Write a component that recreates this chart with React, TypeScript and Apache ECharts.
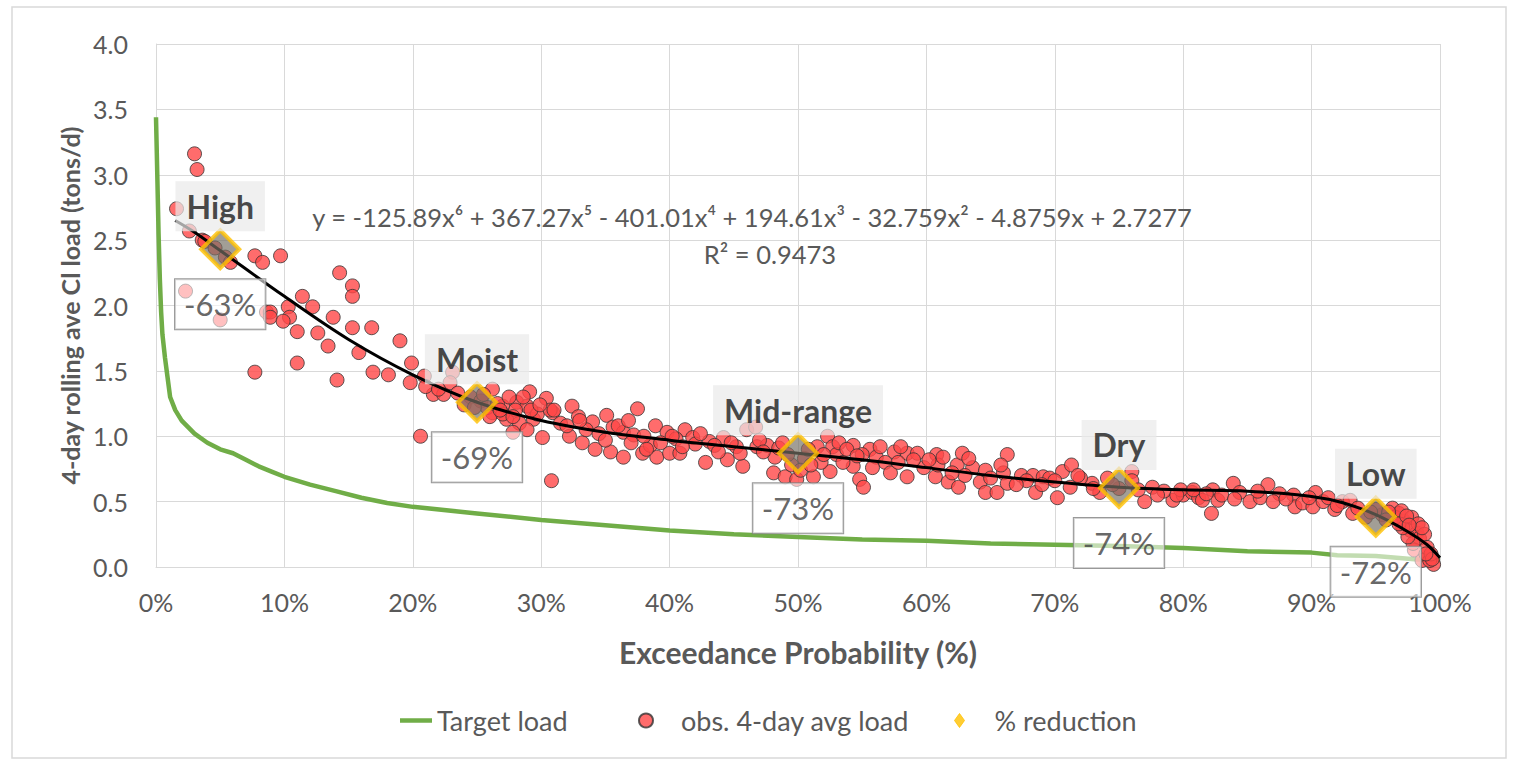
import React, { useEffect, useRef } from "react";
import * as echarts from "echarts";

// Target load curve (exceedance %, tons/d)
const targetLoad: [number, number][] = [
  [0, 3.44], [0.1, 3.0], [0.2, 2.55], [0.3, 2.2], [0.4, 1.95], [0.5, 1.78], [0.7, 1.6], [0.9, 1.45],
  [1.1, 1.3], [1.5, 1.2], [2, 1.12], [3, 1.02], [4, 0.95], [5, 0.9], [6, 0.87], [7, 0.82], [8, 0.77],
  [9, 0.73], [10, 0.69], [12, 0.63], [14, 0.58], [16, 0.53], [18, 0.49], [20, 0.46], [25, 0.41],
  [30, 0.36], [35, 0.32], [40, 0.28], [45, 0.25], [50, 0.23], [55, 0.21], [60, 0.2], [65, 0.18],
  [70, 0.17], [75, 0.16], [80, 0.145], [85, 0.12], [90, 0.11], [92, 0.09], [95, 0.085], [98, 0.06], [100, 0.05],
];

// Observed 4-day average loads (exceedance %, tons/d)
const observedLoad: [number, number][] = [
  [1.6, 2.74], [3.0, 3.16], [3.2, 3.04], [2.6, 2.57], [3.6, 2.5], [3.8, 2.49], [4.6, 2.44], [5.4, 2.37],
  [5.8, 2.33], [2.3, 2.11], [5.0, 1.89], [8.6, 1.95], [7.7, 2.38], [8.3, 2.33], [9.7, 2.38], [14.3, 2.25],
  [15.3, 2.15], [15.3, 2.07], [8.9, 1.95], [8.9, 1.91], [10.3, 1.99], [11.4, 2.07], [12.2, 1.99], [10.4, 1.91],
  [9.9, 1.88], [11.0, 1.8], [12.6, 1.79], [13.8, 1.91], [15.3, 1.83], [16.8, 1.83], [19.0, 1.73], [13.4, 1.69],
  [15.8, 1.64], [7.7, 1.49], [11.0, 1.56], [14.1, 1.43], [16.9, 1.49], [18.1, 1.47], [19.9, 1.56], [19.8, 1.41],
  [20.9, 1.46], [21.6, 1.32], [22.4, 1.32], [23.1, 1.49], [22.9, 1.41], [20.6, 1.0], [24.5, 1.3], [26.2, 1.36],
  [27.0, 1.23], [28.1, 1.26], [29.1, 1.34], [30.4, 1.29], [30.9, 1.18], [28.9, 1.23], [27.3, 1.13], [28.3, 1.1],
  [29.4, 1.13], [30.1, 0.99], [27.8, 1.03], [28.9, 1.05], [26.2, 1.18], [30.8, 0.66], [25.3, 1.27], [25.8, 1.22],
  [26.6, 1.25], [27.5, 1.3], [26.0, 1.15], [27.0, 1.17], [28.0, 1.2], [29.7, 1.17], [24.0, 1.24], [30.7, 1.2],
  [32.4, 1.23], [32.9, 1.15], [32.2, 1.0], [33.2, 0.95], [34.0, 1.11], [34.2, 0.9], [35.1, 1.16], [35.6, 1.07],
  [35.4, 0.88], [36.4, 1.03], [36.4, 0.84], [37.5, 1.21], [37.2, 1.01], [37.9, 0.87], [38.9, 1.08], [39.0, 0.84],
  [39.8, 1.03], [40.0, 0.87], [40.8, 0.87], [41.2, 1.05], [41.8, 0.99], [42.8, 0.8], [43.1, 0.96], [44.2, 0.99],
  [44.5, 0.82], [45.7, 0.77], [45.2, 0.92], [46.0, 1.05], [46.7, 1.07], [46.8, 0.92], [47.6, 0.93], [48.2, 0.84],
  [48.1, 0.72], [49.0, 0.69], [49.9, 0.67], [51.2, 0.69], [51.5, 0.92], [52.3, 1.0], [52.7, 0.92], [52.5, 0.73],
  [54.3, 0.93], [54.3, 0.77], [54.8, 0.67], [55.1, 0.61], [55.6, 0.9], [56.1, 0.84], [31.0, 1.2], [33.5, 1.05],
  [36.0, 1.08], [37.0, 0.95], [38.5, 0.93], [40.5, 0.98], [42.0, 0.94], [43.5, 0.93], [47.0, 0.97], [48.5, 0.91],
  [49.5, 0.78], [50.5, 0.83], [51.8, 0.8], [53.0, 0.86], [53.5, 0.8], [55.0, 0.86], [56.8, 0.8], [57.5, 0.88],
  [57.2, 0.72], [58.5, 0.87], [59.3, 0.87], [58.5, 0.69], [60.8, 0.86], [60.7, 0.69], [60.9, 0.78], [61.7, 0.65],
  [62.5, 0.61], [62.4, 0.78], [62.8, 0.87], [63.6, 0.76], [64.2, 0.65], [64.6, 0.74], [64.6, 0.57], [65.5, 0.57],
  [66.3, 0.86], [66.0, 0.72], [66.3, 0.64], [67.4, 0.7], [68.5, 0.57], [68.3, 0.7], [69.1, 0.69], [69.6, 0.68],
  [70.2, 0.53], [70.6, 0.73], [71.3, 0.78], [71.2, 0.61], [72.9, 0.64], [73.5, 0.57], [74.1, 0.68], [76.0, 0.73],
  [76.0, 0.66], [77.0, 0.5], [77.6, 0.61], [79.2, 0.51], [80.0, 0.55], [80.7, 0.57], [81.2, 0.53], [57.8, 0.8],
  [59.8, 0.76], [63.0, 0.7], [67.8, 0.66], [72.0, 0.68], [75.0, 0.6], [74.5, 0.63], [78.5, 0.58], [79.8, 0.59],
  [80.8, 0.59], [81.5, 0.51], [82.2, 0.41], [82.3, 0.59], [82.7, 0.51], [83.9, 0.64], [84.4, 0.57], [85.2, 0.5],
  [86.6, 0.63], [88.6, 0.55], [88.7, 0.46], [89.3, 0.49], [90.3, 0.57], [90.1, 0.46], [90.9, 0.5], [91.8, 0.44],
  [92.4, 0.5], [93.0, 0.51], [93.2, 0.41], [94.2, 0.38], [95.5, 0.4], [96.3, 0.45], [96.8, 0.41], [97.2, 0.35],
  [97.7, 0.28], [98.2, 0.26], [98.4, 0.22], [98.0, 0.13], [98.6, 0.05], [99.5, 0.02], [99.2, 0.05], [97.9, 0.18],
  [97.5, 0.23], [97.1, 0.3], [96.5, 0.38], [97.0, 0.43], [97.8, 0.38], [98.3, 0.33], [98.8, 0.25], [99.0, 0.15],
  [99.3, 0.1], [87.5, 0.56], [86.0, 0.53], [83.0, 0.55], [95.0, 0.44], [96.0, 0.42],
  [21.0, 1.38], [22.0, 1.36], [23.5, 1.33], [24.8, 1.22], [25.5, 1.32], [26.8, 1.2], [27.8, 1.15], [28.6, 1.3],
  [29.2, 1.2], [29.9, 1.24], [31.5, 1.1], [32.0, 1.08], [33.0, 1.12], [34.5, 1.02], [35.0, 0.97], [36.8, 1.12],
  [38.0, 1.0], [38.2, 0.9], [39.3, 0.95], [40.2, 1.0], [41.0, 0.92], [42.4, 1.02], [43.8, 0.88], [44.8, 0.95],
  [45.5, 0.87], [47.3, 0.88], [48.8, 0.95], [49.2, 0.86], [50.2, 0.74], [50.8, 0.9], [51.0, 0.78], [52.0, 0.86],
  [53.2, 0.95], [53.8, 0.9], [54.6, 0.85], [55.8, 0.76], [56.4, 0.92], [58.0, 0.92], [59.0, 0.82], [60.2, 0.82],
  [61.3, 0.84], [62.0, 0.72], [63.3, 0.83], [65.0, 0.68], [65.8, 0.78], [67.0, 0.63], [69.0, 0.63], [70.0, 0.66],
  [71.8, 0.7], [73.0, 0.6], [76.5, 0.59], [78.0, 0.55], [79.5, 0.55], [81.8, 0.56], [84.0, 0.52], [85.8, 0.58],
  [87.0, 0.5], [88.0, 0.52], [89.8, 0.53], [91.3, 0.53], [92.0, 0.47], [93.6, 0.45], [94.6, 0.42], [95.8, 0.36],
  [96.8, 0.33], [97.4, 0.39], [98.6, 0.3], [99.4, 0.06], [98.9, 0.1], [97.6, 0.32],
];

// Polynomial trend line
const trendLine: [number, number][] = [
  [1.5, 2.65], [3, 2.56], [5, 2.42], [10, 2.07], [15, 1.74], [20, 1.47], [25, 1.26], [30, 1.12], [35, 1.03],
  [40, 0.97], [45, 0.92], [50, 0.87], [55, 0.82], [60, 0.76], [65, 0.7], [70, 0.65], [75, 0.61], [80, 0.59],
  [85, 0.58], [90, 0.54], [92.5, 0.49], [95, 0.4], [97.5, 0.27], [99, 0.17], [100, 0.07],
];

const flowRegimes = ["High", "Moist", "Mid-range", "Dry", "Low"];
const regimeX = [5, 25, 50, 75, 95];
const regimeY = [2.43, 1.26, 0.87, 0.605, 0.385];
const reductionLabels = ["-63%", "-69%", "-73%", "-74%", "-72%"];

const equationText =
  "y = -125.89x⁶ + 367.27x⁵ - 401.01x⁴ + 194.61x³ - 32.759x² - 4.8759x + 2.7277";
const rSquaredText = "R² = 0.9473";

const FONT = "Lato, 'Open Sans', 'Noto Sans', sans-serif";
const GREY = "#595959";
const GRID = "#d9d9d9";

export default function App() {
  const ref = useRef<HTMLDivElement>(null);

  useEffect(() => {
    if (!ref.current) return;
    const chart = echarts.init(ref.current, undefined, { renderer: "svg" });

    const legendText = { fontSize: 27, color: GREY, fontFamily: FONT };

    chart.setOption({
      animation: false,
      backgroundColor: "#ffffff",
      textStyle: { fontFamily: FONT },
      grid: { left: 156, top: 44, width: 1284, height: 523, containLabel: false },
      xAxis: {
        type: "value",
        min: 0,
        max: 100,
        interval: 10,
        name: "Exceedance Probability (%)",
        nameLocation: "middle",
        nameGap: 70,
        nameTextStyle: { fontSize: 30, fontWeight: "bold", color: GREY, fontFamily: FONT },
        axisLine: { show: true, lineStyle: { color: GRID, width: 1 } },
        axisTick: { show: false },
        axisLabel: { formatter: "{value}%", fontSize: 25, color: GREY, margin: 22, fontFamily: FONT },
        splitLine: { show: true, lineStyle: { color: GRID, width: 1 } },
      },
      yAxis: {
        type: "value",
        min: 0,
        max: 4,
        interval: 0.5,
        name: "4-day rolling ave Cl load (tons/d)",
        nameLocation: "middle",
        nameGap: 73,
        nameTextStyle: { fontSize: 25, fontWeight: "bold", color: GREY, fontFamily: FONT },
        axisLine: { show: true, lineStyle: { color: GRID, width: 1 } },
        axisTick: { show: false },
        axisLabel: {
          formatter: (v: number) => v.toFixed(1),
          fontSize: 25,
          color: GREY,
          margin: 28,
          fontFamily: FONT,
        },
        splitLine: { show: true, lineStyle: { color: GRID, width: 1 } },
      },
      legend: [
        {
          left: 400,
          top: 707,
          padding: 0,
          itemWidth: 32,
          itemHeight: 14,
          symbolKeepAspect: true,
          data: [{ name: "Target load", icon: "path://M0,0L32,0L32,4.5L0,4.5Z" }],
          textStyle: legendText,
        },
        {
          left: 638,
          top: 707,
          padding: 0,
          itemWidth: 60,
          itemHeight: 14,
          symbolKeepAspect: true,
          data: [{ name: "obs. 4-day avg load", icon: "circle" }],
          textStyle: legendText,
        },
        {
          left: 954,
          top: 707,
          padding: 0,
          itemWidth: 60,
          itemHeight: 14,
          symbolKeepAspect: true,
          data: [
            {
              name: "% reduction",
              icon: "path://M5,0L10,7L5,14L0,7Z",
              itemStyle: { color: "#FFC000", borderColor: "#FFC000", borderWidth: 1 },
            },
          ],
          textStyle: legendText,
        },
      ],
      graphic: [
        {
          type: "rect",
          silent: true,
          z: -10,
          shape: { x: 12, y: 7, width: 1494, height: 751 },
          style: { fill: "none", stroke: "#d9d9d9", lineWidth: 1.5 },
        },
        {
          type: "text",
          silent: true,
          x: 752,
          y: 217,
          z: 1,
          style: {
            text: equationText,
            fontSize: 25.5,
            fontFamily: FONT,
            fill: GREY,
            align: "center",
            verticalAlign: "middle",
          },
        },
        {
          type: "text",
          silent: true,
          x: 770,
          y: 254,
          z: 1,
          style: {
            text: rSquaredText,
            fontSize: 25.5,
            fontFamily: FONT,
            fill: GREY,
            align: "center",
            verticalAlign: "middle",
          },
        },
      ],
      series: [
        {
          type: "line",
          name: "Target load",
          data: targetLoad,
          symbol: "none",
          showSymbol: false,
          lineStyle: { color: "#70AD47", width: 4.5 },
          itemStyle: { color: "#70AD47" },
          z: 2,
        },
        {
          type: "scatter",
          name: "obs. 4-day avg load",
          data: observedLoad,
          symbol: "circle",
          symbolSize: 14,
          itemStyle: { color: "#FF4747", borderColor: "#333333", borderWidth: 1 },
          z: 3,
        },
        {
          type: "line",
          name: "Poly. (obs. 4-day avg load)",
          data: trendLine,
          symbol: "none",
          showSymbol: false,
          smooth: 0.35,
          lineStyle: { color: "#000000", width: 3 },
          itemStyle: { color: "#000000" },
          z: 4,
        },
        {
          type: "scatter",
          name: "% reduction",
          data: regimeX.map((x, i) => ({ value: [x, regimeY[i]], name: flowRegimes[i] })),
          symbol: "diamond",
          symbolSize: 38,
          itemStyle: { color: "rgba(118,112,100,0.85)", borderColor: "#FFC000", borderWidth: 4 },
          label: {
            show: true,
            position: "inside",
            offset: [0, -43],
            formatter: "{b}",
            fontSize: 32,
            fontWeight: "bold",
            fontFamily: FONT,
            color: "#1a1a1a",
            lineHeight: 30,
            backgroundColor: "rgba(234,234,234,0.88)",
            padding: [10, 11],
          },
          z: 5,
        },
        {
          type: "scatter",
          name: "reduction labels",
          silent: true,
          data: regimeX.map((x, i) => ({ value: [x, regimeY[i]], name: reductionLabels[i] })),
          symbol: "circle",
          symbolSize: 1,
          itemStyle: { color: "transparent" },
          label: {
            show: true,
            position: "inside",
            offset: [0, 55],
            formatter: "{b}",
            fontSize: 31,
            fontFamily: FONT,
            color: "#404040",
            lineHeight: 32,
            backgroundColor: "rgba(255,255,255,0.72)",
            borderColor: "#7f7f7f",
            borderWidth: 1,
            padding: [9, 9],
          },
          z: 6,
        },
      ],
    });

    return () => chart.dispose();
  }, []);

  return (
    <div
      ref={ref}
      style={{ position: "fixed", left: 0, top: 0, width: 1516, height: 766, background: "#ffffff" }}
    />
  );
}
